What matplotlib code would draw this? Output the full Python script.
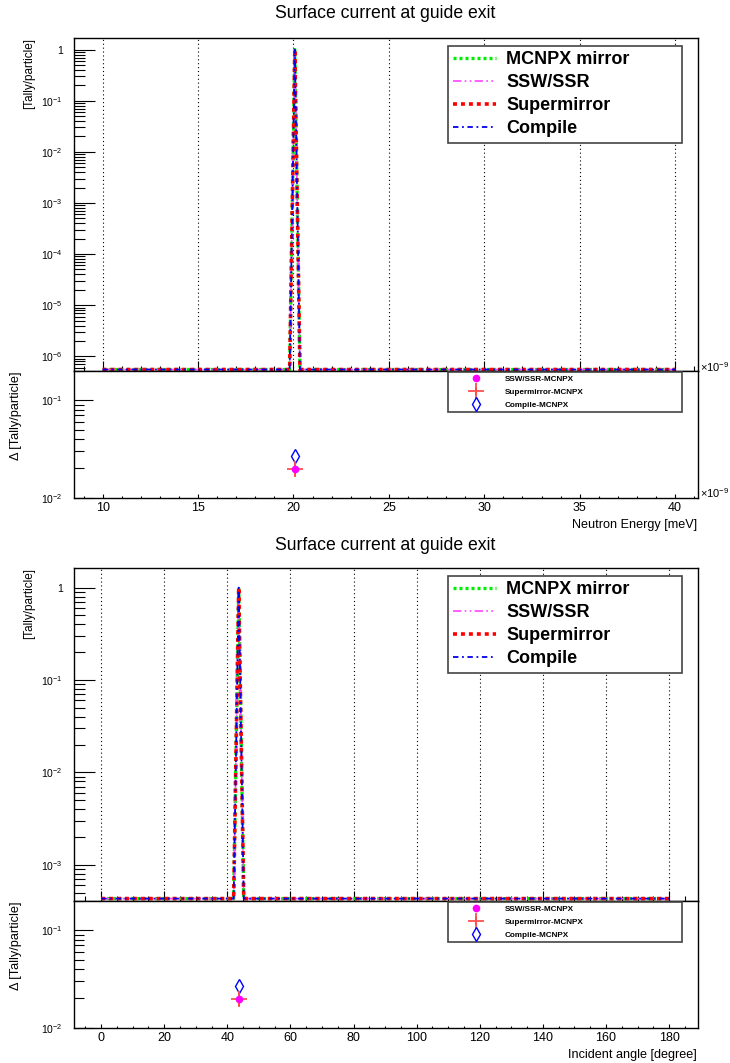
import numpy as np
import matplotlib
matplotlib.use("Agg")
import matplotlib.pyplot as plt
from matplotlib.ticker import LogLocator, MultipleLocator, FuncFormatter, NullFormatter

plt.rcParams['font.family'] = ['Liberation Sans', 'DejaVu Sans']
plt.rcParams['mathtext.fontset'] = 'custom'
plt.rcParams['mathtext.rm'] = 'Liberation Sans'
plt.rcParams['mathtext.bf'] = 'Liberation Sans:bold'

W, H = 730, 1063

# --- energy panel data ---
energy_x = [10.0, 19.8, 20.07, 20.34, 40.0]
energy_mcnpx = [5.5e-7, 5.5e-7, 1.0, 5.5e-7, 5.5e-7]
energy_ssw = [5.5e-7, 5.5e-7, 1.0, 5.5e-7, 5.5e-7]
energy_super = [5.5e-7, 5.5e-7, 1.0, 5.5e-7, 5.5e-7]
energy_compile = [5.5e-7, 5.5e-7, 1.0, 5.5e-7, 5.5e-7]
energy_diff_x = [20.08]
energy_diff_ssw = [0.0198]
energy_diff_super = [0.0198]
energy_diff_super_err = [0.003]
energy_diff_compile = [0.027]

# --- angle panel data ---
angle_x = [0.0, 42.0, 43.6, 45.2, 180.0]
angle_mcnpx = [4.3e-4, 4.3e-4, 1.0, 4.3e-4, 4.3e-4]
angle_ssw = [4.3e-4, 4.3e-4, 1.0, 4.3e-4, 4.3e-4]
angle_super = [4.3e-4, 4.3e-4, 1.0, 4.3e-4, 4.3e-4]
angle_compile = [4.3e-4, 4.3e-4, 1.0, 4.3e-4, 4.3e-4]
angle_diff_x = [43.7]
angle_diff_ssw = [0.0198]
angle_diff_super = [0.0198]
angle_diff_super_err = [0.003]
angle_diff_compile = [0.027]

series_labels = ["MCNPX mirror", "SSW/SSR", "Supermirror", "Compile"]
diff_labels = ["SSW/SSR-MCNPX", "Supermirror-MCNPX", "Compile-MCNPX"]
title = "Surface current at guide exit"


def rect(left, top, right, bottom):
    return [left / W, 1 - bottom / H, (right - left) / W, (bottom - top) / H]


def log_fmt(v, pos):
    e = int(round(np.log10(v)))
    if e == 0:
        return "1"
    return r"$\mathregular{10^{%d}}$" % e


fig = plt.figure(figsize=(W / 100, H / 100), dpi=100)


def draw_panel(off, title_y, x, ys, xlim, ylim, xmajor, xminor,
               dx, d_ssw, d_super, d_err, d_comp, xlabel, times_label):
    # --- upper panel ---
    ax = fig.add_axes(rect(74, 38 + off, 697.5, 371 + off))
    styles = [
        dict(color="#00ee00", lw=2.4, ls=(0, (0.9, 0.9))),
        dict(color="#ff44ff", lw=1.2, ls=(0, (5, 2, 1, 2, 1, 2))),
        dict(color="#ff0000", lw=2.6, ls=(0, (1.1, 1.1))),
        dict(color="#0000ee", lw=1.3, ls=(0, (3, 2, 1, 2))),
    ]
    for y, lab, st in zip(ys, series_labels, styles):
        ax.plot(x, y, label=lab, **st)
    ax.set_yscale("log")
    ax.set_xlim(*xlim)
    ax.set_ylim(*ylim)
    ax.xaxis.set_major_locator(MultipleLocator(xmajor))
    ax.xaxis.set_minor_locator(MultipleLocator(xminor))
    ax.yaxis.set_major_locator(LogLocator(base=10, numticks=20))
    ax.yaxis.set_minor_locator(LogLocator(base=10, subs=np.arange(2, 10), numticks=20))
    ax.yaxis.set_major_formatter(FuncFormatter(log_fmt))
    ax.yaxis.set_minor_formatter(NullFormatter())
    ax.tick_params(axis="y", which="major", direction="in", length=15, width=0.8,
                   labelsize=7.5, pad=8, right=False)
    ax.tick_params(axis="y", which="minor", direction="in", length=8, width=0.8, right=False)
    ax.tick_params(axis="x", which="major", direction="in", length=7, width=0.8,
                   labelbottom=False, top=False)
    ax.tick_params(axis="x", which="minor", direction="in", length=3.5, width=0.8, top=False)
    ax.grid(True, axis="x", which="major", color="k", lw=0.8, ls=(0, (1, 2.5)))
    for s in ax.spines.values():
        s.set_linewidth(1.0)
    leg = ax.legend(loc="upper left", bbox_to_anchor=rect(448, 46 + off, 682, 142 + off),
                    bbox_transform=fig.transFigure, mode="expand", borderaxespad=0,
                    prop={"weight": "bold", "size": 13}, handlelength=2.4,
                    handletextpad=0.55, labelspacing=0.34, borderpad=0.28,
                    fancybox=False, framealpha=1, edgecolor="#444444")
    leg.get_frame().set_linewidth(1.2)

    fig.text(385 / W, 1 - title_y / H, title, ha="center", va="center", size=12.7)
    fig.text(29 / W, 1 - (38 + off) / H, "[Tally/particle]", rotation=90,
             ha="center", va="top", size=8.5)

    # --- lower panel ---
    bx = fig.add_axes(rect(74, 371 + off, 697.5, 497.7 + off))
    h1, = bx.plot(dx, d_ssw, "o", color="#ff00ff", ms=4.5, zorder=4)
    h2 = bx.errorbar(dx, d_super, yerr=d_err, fmt="+", color="#ff5050", ecolor="red",
                     ms=11, mew=1.3, elinewidth=1.3, zorder=3)
    h3, = bx.plot(dx, d_comp, "d", color="#0000ff", mfc="none", ms=7, mew=1.0, zorder=3)
    bx.set_yscale("log")
    bx.set_xlim(*xlim)
    bx.set_ylim(0.01, 0.2)
    bx.xaxis.set_major_locator(MultipleLocator(xmajor))
    bx.xaxis.set_minor_locator(MultipleLocator(xminor))
    bx.yaxis.set_major_locator(LogLocator(base=10, numticks=20))
    bx.yaxis.set_minor_locator(LogLocator(base=10, subs=np.arange(2, 10), numticks=20))
    bx.yaxis.set_major_formatter(FuncFormatter(log_fmt))
    bx.yaxis.set_minor_formatter(NullFormatter())
    bx.tick_params(axis="y", which="major", direction="in", length=14, width=0.8,
                   labelsize=7.5, pad=8, right=False)
    bx.tick_params(axis="y", which="minor", direction="in", length=7, width=0.8, right=False)
    bx.tick_params(axis="x", which="major", direction="in", length=3, width=0.8,
                   labelsize=9, pad=3, top=False)
    bx.tick_params(axis="x", which="minor", direction="in", length=1.5, width=0.8, top=False)
    for s in bx.spines.values():
        s.set_linewidth(1.0)
    leg2 = bx.legend([h1, h2, h3], diff_labels, loc="upper left",
                     bbox_to_anchor=rect(448, 372 + off, 682, 411 + off),
                     bbox_transform=fig.transFigure, mode="expand", borderaxespad=0,
                     numpoints=1, prop={"weight": "bold", "size": 5.9}, handlelength=6.1,
                     handletextpad=0.5, labelspacing=0.68, borderpad=0.35,
                     fancybox=False, framealpha=1, edgecolor="#444444")
    leg2.get_frame().set_linewidth(1.2)

    fig.text(16 / W, 1 - (372 + off) / H, "\u0394 [Tally/particle]", rotation=90,
             ha="center", va="top", size=9.2)
    fig.text(697 / W, 1 - (525 + off) / H, xlabel, ha="right", va="center", size=9.1)
    if times_label:
        fig.text(700 / W, 1 - (367 + off) / H, "\u00d7" + r"$\mathregular{10^{-9}}$",
                 ha="left", va="center", size=8)
        fig.text(700 / W, 1 - (493 + off) / H, "\u00d7" + r"$\mathregular{10^{-9}}$",
                 ha="left", va="center", size=8)


draw_panel(0, 13, energy_x, [energy_mcnpx, energy_ssw, energy_super, energy_compile],
           (8.5, 41.17), (5.15e-7, 1.69), 5, 1,
           energy_diff_x, energy_diff_ssw, energy_diff_super, energy_diff_super_err,
           energy_diff_compile, "Neutron Energy [meV]", True)

draw_panel(530, 545, angle_x, [angle_mcnpx, angle_ssw, angle_super, angle_compile],
           (-8.6, 189.0), (4.05e-4, 1.63), 20, 5,
           angle_diff_x, angle_diff_ssw, angle_diff_super, angle_diff_super_err,
           angle_diff_compile, "Incident angle [degree]", False)

fig.savefig("out.png", dpi=100)
